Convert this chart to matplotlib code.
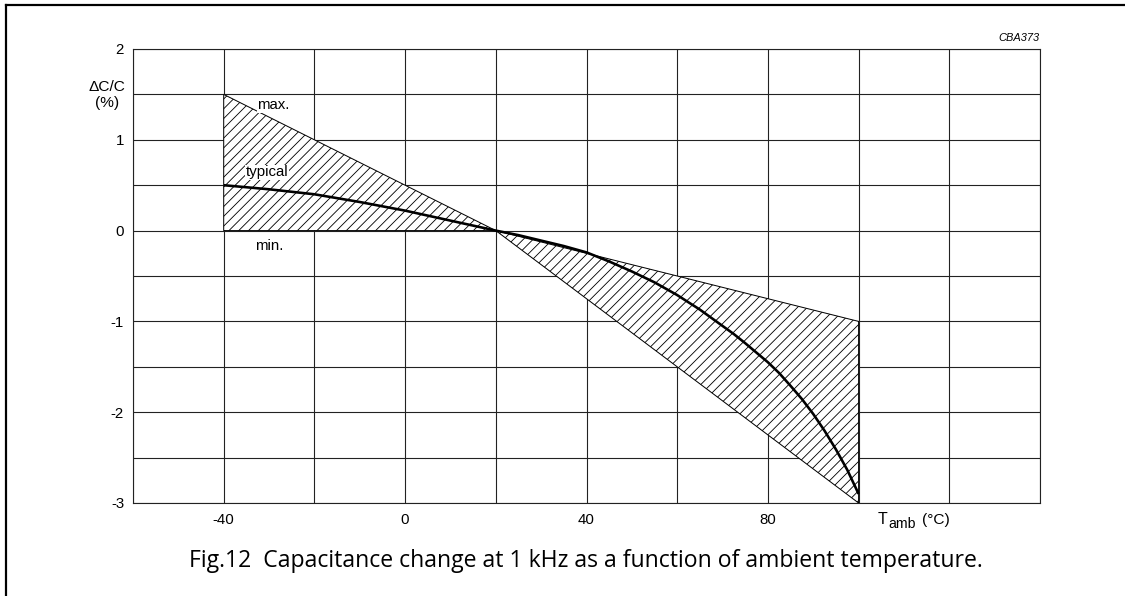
import matplotlib
matplotlib.use("Agg")
import matplotlib.pyplot as plt
from matplotlib.lines import Line2D

# ---- data ----
band_t = [-40, 20, 100]
band_max = [1.5, 0.0, -1.0]
band_min = [0.0, 0.0, -3.0]

typ_t = [-40, -30, -20, -10, 0, 10, 20, 25, 30, 35, 40, 45, 50, 55, 60, 65, 70,
         72.5, 75, 77.5, 80, 82.5, 85, 87.5, 90, 92.5, 95, 97.5, 100]
typ_v = [0.5, 0.455, 0.40, 0.315, 0.22, 0.11, 0.0, -0.05, -0.11, -0.17, -0.24, -0.34,
         -0.45, -0.57, -0.71, -0.87, -1.05, -1.14, -1.24, -1.345, -1.45, -1.57,
         -1.71, -1.855, -2.02, -2.205, -2.41, -2.635, -2.9]

x_grid = list(range(-60, 141, 20))
x_labels = ["", "-40", "", "0", "", "40", "", "80", "", "", ""]
y_grid = [-3, -2.5, -2, -1.5, -1, -0.5, 0, 0.5, 1, 1.5, 2]
y_labels = ["-3", "", "-2", "", "-1", "", "0", "", "1", "", "2"]

DPI = 88
W, H = 1125, 596
def pt(px):
    return px * 72.0 / DPI

plt.rcParams['font.family'] = ['Liberation Sans', 'DejaVu Sans']
plt.rcParams['hatch.linewidth'] = 0.7

fig = plt.figure(figsize=(W / DPI, H / DPI), dpi=DPI)
ax = fig.add_axes([133 / W, 1 - 503 / H, (1040 - 133) / W, (503 - 49) / H])
ax.set_xlim(-60, 140)
ax.set_ylim(-3, 2)

ax.set_xticks(x_grid)
ax.set_xticklabels(x_labels)
ax.set_yticks(y_grid)
ax.set_yticklabels(y_labels)
ax.tick_params(length=0, labelsize=pt(15))
ax.tick_params(axis='x', pad=pt(10))
ax.tick_params(axis='y', pad=pt(9))
ax.grid(True, color='#222222', linewidth=pt(1.1))
ax.set_axisbelow(True)
for s in ax.spines.values():
    s.set_color('#222222')
    s.set_linewidth(pt(1.1))

ax.fill_between(band_t, band_max, band_min, facecolor='white', edgecolor='black',
                hatch='///', linewidth=pt(1.0), zorder=2)
ax.plot(typ_t, typ_v, color='black', linewidth=pt(2.6), zorder=3,
        solid_capstyle='butt', solid_joinstyle='round')

bbox = dict(facecolor='white', edgecolor='none', pad=0.5)
ax.text(-29, 1.38, "max.", ha='center', va='center', fontsize=pt(15), bbox=bbox, zorder=4)
ax.text(-30.5, 0.64, "typical", ha='center', va='center', fontsize=pt(15), bbox=bbox, zorder=4)
ax.text(-30, -0.17, "min.", ha='center', va='center', fontsize=pt(15), zorder=4)

# axis labels
fig.text(107 / W, 1 - 87 / H, "\u0394C/C", ha='center', va='center', fontsize=pt(15.5))
fig.text(107 / W, 1 - 103 / H, "(%)", ha='center', va='center', fontsize=pt(15.5))
fig.text(878 / W, 1 - 520 / H, "T", ha='left', va='center', fontsize=pt(16))
fig.text(888 / W, 1 - 524 / H, "amb", ha='left', va='center', fontsize=pt(14))
fig.text(922 / W, 1 - 520 / H, "(\u00b0C)", ha='left', va='center', fontsize=pt(15.5))
fig.text(1040 / W, 1 - 38 / H, "CBA373", ha='right', va='center', fontsize=pt(11),
         style='italic')

fig.text(586 / W, 1 - 561 / H,
         "Fig.12  Capacitance change at 1 kHz as a function of ambient temperature.",
         ha='center', va='center', fontsize=pt(23), family='Open Sans')

# outer frame (top and left)
fig.add_artist(Line2D([6 / W, 6 / W], [0, 1 - 5 / H], transform=fig.transFigure,
                      color='black', linewidth=pt(2.2), solid_capstyle='projecting'))
fig.add_artist(Line2D([6 / W, 1], [1 - 5 / H, 1 - 5 / H], transform=fig.transFigure,
                      color='black', linewidth=pt(2.2), solid_capstyle='projecting'))

fig.savefig("out.png", dpi=DPI, facecolor='white')
